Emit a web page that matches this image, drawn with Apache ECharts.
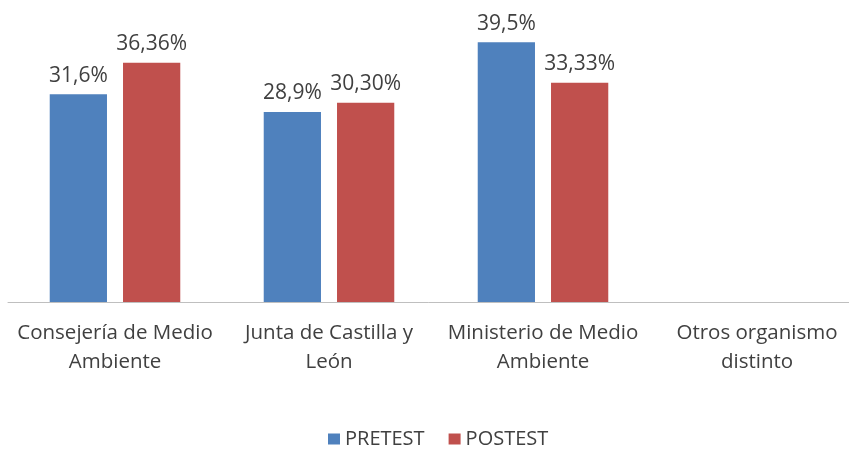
<!DOCTYPE html>
<html>
<head>
<meta charset="utf-8">
<script src="https://cdn.jsdelivr.net/npm/echarts@6/dist/echarts.min.js"></script>
<style>
  html, body { margin: 0; padding: 0; background: #fff; }
  #chart { width: 849px; height: 450px; }
</style>
</head>
<body>
<div id="chart"></div>
<script>
// datos
var categorias = [
  'Consejería de Medio\nAmbiente',
  'Junta de Castilla y\nLeón',
  'Ministerio de Medio\nAmbiente',
  'Otros organismo\ndistinto'
];
var pretest = [31.6, 28.9, 39.5, null];
var postest = [36.36, 30.30, 33.33, null];

var fuente = 'Open Sans';

function etiqueta(dec) {
  return function (p) {
    return p.value.toFixed(dec).replace('.', ',') + '%';
  };
}

var myChart = echarts.init(document.getElementById('chart'));
var option = {
  animation: false,
  color: ['#4F81BD', '#C0504D'],
  textStyle: { fontFamily: fuente },
  legend: {
    data: ['PRETEST', 'POSTEST'],
    top: 429,
    left: 328,
    padding: 0,
    icon: 'rect',
    itemWidth: 12,
    itemHeight: 11,
    itemGap: 24,
    textStyle: { fontSize: 20, color: '#404040', fontFamily: fuente }
  },
  grid: {
    left: 8,
    width: 856,
    top: 6,
    bottom: 148,
    containLabel: false,
    outerBoundsMode: 'none'
  },
  xAxis: [{
    type: 'category',
    data: categorias,
    axisTick: { show: false },
    axisLine: { lineStyle: { color: '#BFBFBF', width: 1 } },
    axisLabel: {
      interval: 0,
      margin: 17,
      color: '#404040',
      fontSize: 20.5,
      lineHeight: 29,
      fontFamily: fuente,
      hideOverlap: false
    }
  }],
  yAxis: [{
    type: 'value',
    min: 0,
    max: 45,
    show: false,
    splitLine: { show: false }
  }],
  series: [{
    name: 'PRETEST',
    type: 'bar',
    data: pretest,
    barGap: '28%',
    barCategoryGap: '39%',
    label: {
      show: true,
      position: 'top',
      distance: 8,
      color: '#404040',
      fontSize: 21,
      fontFamily: fuente,
      formatter: etiqueta(1)
    }
  }, {
    name: 'POSTEST',
    type: 'bar',
    data: postest,
    label: {
      show: true,
      position: 'top',
      distance: 8,
      color: '#404040',
      fontSize: 21,
      fontFamily: fuente,
      formatter: etiqueta(2)
    }
  }]
};
myChart.setOption(option, true);
</script>
</body>
</html>
